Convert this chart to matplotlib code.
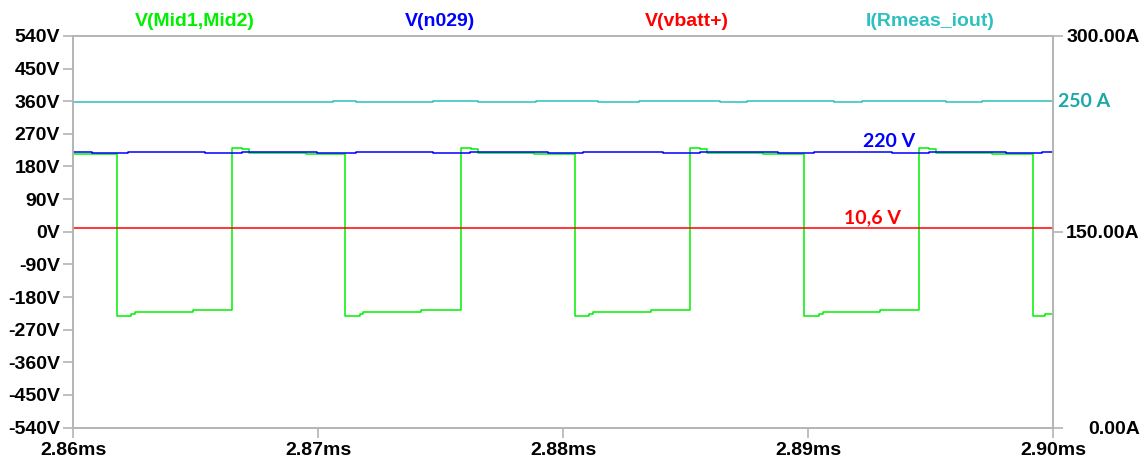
import matplotlib
matplotlib.use("Agg")
import matplotlib.pyplot as plt
import matplotlib.transforms as mtransforms

# time axis in ms
green_t = [2.860000, 2.861796, 2.862367, 2.862531, 2.864898,
           2.866510, 2.866918, 2.867204, 2.869490,
           2.871122, 2.871694, 2.871857, 2.874224,
           2.875837, 2.876245, 2.876531, 2.878816,
           2.880490, 2.881061, 2.881224, 2.883592,
           2.885184, 2.885592, 2.885878, 2.888163,
           2.889857, 2.890429, 2.890592, 2.892959,
           2.894543, 2.894951, 2.895237, 2.897522,
           2.899196, 2.899673, 2.900000]
green_v = [213.5, -231.7, -226.0, -220.5, -216.0,
           231.7, 227.0, 216.3, 213.5,
           -231.7, -226.0, -220.5, -216.0,
           231.7, 227.0, 216.3, 213.5,
           -231.7, -226.0, -220.5, -216.0,
           231.7, 227.0, 216.3, 213.5,
           -231.7, -226.0, -220.5, -216.0,
           231.7, 227.0, 216.3, 213.5,
           -231.7, -226.0, -226.0]

blue_t = [2.860000, 2.860776, 2.862245, 2.865388, 2.866898, 2.869959, 2.871551,
          2.874694, 2.876204, 2.879388, 2.880816, 2.884082, 2.885592,
          2.888776, 2.890245, 2.893429, 2.894939, 2.898082, 2.899551, 2.900000]
blue_v = [219.9, 216.3, 219.9, 216.3, 219.9, 216.3, 219.9,
          216.3, 219.9, 216.3, 219.9, 216.3, 219.9,
          216.3, 219.9, 216.3, 219.9, 216.3, 219.9, 219.9]

red_t = [2.86, 2.90]
red_v = [10.6, 10.6]

cyan_t = [2.860000, 2.870612, 2.871551, 2.874694, 2.876531, 2.878898, 2.881429,
          2.883102, 2.886408, 2.887510, 2.891061, 2.892204, 2.895633, 2.897102, 2.900000]
cyan_a = [249.4, 250.4, 249.4, 250.4, 249.4, 250.4, 249.4,
          250.4, 249.4, 250.4, 249.4, 250.4, 249.4, 250.4, 250.4]

v_ticks = [540, 450, 360, 270, 180, 90, 0, -90, -180, -270, -360, -450, -540]
a_ticks = [0, 150, 300]
t_ticks = [2.86, 2.87, 2.88, 2.89, 2.90]

GREEN = '#00f000'
BLUE = '#0000ff'
RED = '#ff0000'
CYAN = '#2cc0c0'
TEAL_TXT = '#1aa8a8'
FRAME = '#b4b4b4'

plt.rcParams['font.family'] = ['Liberation Sans', 'DejaVu Sans']

W, H = 1148, 461
fig = plt.figure(figsize=(W / 100, H / 100), dpi=100)
x0, x1, y0, y1 = 73, 1053, 36, 427.5
ax = fig.add_axes([x0 / W, 1 - y1 / H, (x1 - x0) / W, (y1 - y0) / H])
ax2 = ax.twinx()

ax.step(green_t, green_v, where='post', color=GREEN, lw=1.1, zorder=2)
ax.step(blue_t, blue_v, where='post', color=BLUE, lw=1.1, zorder=3)
ax.plot(red_t, red_v, color=RED, lw=1.1, zorder=4)
ax2.step(cyan_t, cyan_a, where='post', color=CYAN, lw=1.1)

ax.set_xlim(2.86, 2.90)
ax.set_ylim(-540, 540)
ax2.set_ylim(0, 300)

tick_font = dict(fontsize=14, fontweight='bold')
ax.set_xticks(t_ticks)
ax.set_xticklabels([f'{t:.2f}ms' for t in t_ticks], **tick_font)
ax.set_yticks(v_ticks)
ax.set_yticklabels([f'{v}V' for v in v_ticks], **tick_font)
ax2.set_yticks(a_ticks)
ax2.set_yticklabels([f'{a:.2f}A' for a in a_ticks], **tick_font, ha='right')

for a in (ax, ax2):
    for sp in a.spines.values():
        sp.set_color(FRAME)
        sp.set_linewidth(1.2)
ax.tick_params(axis='both', direction='out', length=7.5, width=1.2, color=FRAME, pad=2)
ax.tick_params(axis='x', pad=3)
ax2.tick_params(axis='y', direction='out', length=7.5, width=1.2, color=FRAME, pad=55)

# trace names across the top
names = [('V(Mid1,Mid2)', 195, GREEN), ('V(n029)', 440, BLUE),
         ('V(vbatt+)', 687, RED), ('I(Rmeas_iout)', 930, CYAN)]
for txt, px, col in names:
    fig.text(px / W, 1 - 21 / H, txt, color=col, fontsize=14, fontweight='bold',
             ha='center', va='center')

# value callouts
note = dict(fontsize=14, fontweight='bold', family=['Lato', 'DejaVu Sans'])
ax.text(2.89330, 248, '220 V', color=BLUE, ha='center', va='center', **note)
ax.text(2.89261, 40, '10,6 V', color=RED, ha='center', va='center', **note)
trans = mtransforms.blended_transform_factory(ax2.transAxes, ax2.transData)
ax2.text(1.005, 250, '250 A', color=TEAL_TXT, ha='left', va='center',
         transform=trans, **note)

fig.savefig('out.png', dpi=100)
